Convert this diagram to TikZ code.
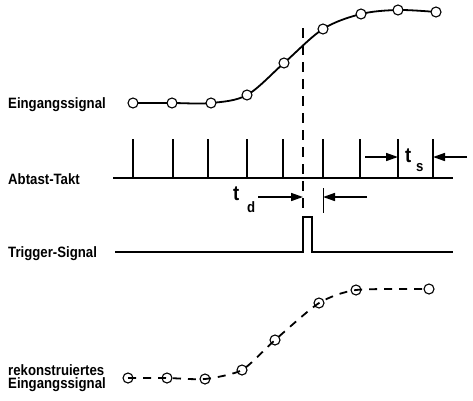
\documentclass[tikz,border=0pt]{standalone}
\usepackage{fontspec}
\newfontfamily\lblfont{Liberation Sans Bold}[FakeStretch=0.88]
\usetikzlibrary{arrows.meta, backgrounds}
\tikzset{
  smp/.style = {
    circle, draw=black, fill=white, line width=1.1pt,
    minimum size=10pt, inner sep=0pt
  },
  rsmp/.style = {
    circle, draw=black, line width=1.1pt,
    minimum size=10pt, inner sep=0pt
  },
  sig/.style  = {line width=1.8pt},
  lbl/.style  = {anchor=base west, inner sep=0pt,
                 font=\lblfont\fontsize{15}{13.5}\selectfont},
  tlbl/.style = {anchor=base west, inner sep=0pt,
                 font=\lblfont\fontsize{21}{21}\selectfont},
  slbl/.style = {anchor=base west, inner sep=0pt,
                 font=\lblfont\fontsize{15}{15}\selectfont},
  arr/.style  = {-{Triangle[length=12pt,width=8pt]}, line width=1.6pt}
}

\begin{document}
\begin{tikzpicture}[x=1pt, y=-1pt]
\useasboundingbox (0,0) rectangle (473,400);

%% Labels
\node[lbl] (ein)  at (8,108) {Eingangssignal};
\node[lbl] (abt)  at (8,184) {Abtast-Takt};
\node[lbl] (trg)  at (8,257) {Trigger-Signal};
\node[lbl, anchor=north west, align=left] (rek) at (8,364)
  {rekonstruiertes\\Eingangssignal};

%% Input signal
\foreach \x/\y [count=\i] in {133/103, 172/103, 211/103, 247/95, 284/63,
                              323/29, 361/14, 398/10, 436/12}
  \node[smp] (e\i) at (\x,\y) {};
\begin{scope}[on background layer]
\draw[sig] plot[smooth, tension=0.55] coordinates
  {(e1) (e2) (e3) (e4) (e5) (e6) (e7) (e8) (e9)};
\end{scope}

%% Sampling clock
\coordinate (abl) at (113,178);
\coordinate (abr) at (453,178);
\draw[sig] (abl) -- (abr);
\foreach \x [count=\i] in {133,173,208,247,283,323,360,398,433} {
  \coordinate (a\i) at (\x,178);
  \draw[sig] (a\i) -- ++(0,-39);
}

%% t_s
\coordinate (ts1) at (365,157);
\coordinate (ts2) at (467,157);
\draw[arr] (ts1) -- (ts1 -| a8);
\draw[arr] (ts2) -- (ts2 -| a9);
\node[tlbl] (tst) at (405,162) {t};
\node[slbl] (tss) at (416,171) {s};

%% Trigger instant
\coordinate (dtop) at (303,28);
\coordinate (dbot) at (303,208);
\draw[line width=2pt, dash pattern=on 10pt off 7pt] (dtop) -- (dbot);

%% t_d
\coordinate (td1) at (258,197);
\coordinate (td2) at (367,197);
\coordinate (tdm) at (323,188);
\draw[line width=0.8pt] (tdm) -- ++(0,25);
\draw[arr] (td1) -- (td1 -| dtop);
\draw[arr] (td2) -- (td2 -| tdm);
\node[tlbl] (tdt) at (233,200) {t};
\node[slbl] (tdd) at (247,212) {d};

%% Trigger signal
\coordinate (trl) at (115,252);
\coordinate (pl)  at (303,217);
\coordinate (pr)  at (312,217);
\coordinate (trr) at (453,252);
\draw[sig] (trl) -| (pl) -- (pr) |- (trr);

%% Reconstructed signal
\foreach \x/\y [count=\i] in {128/378, 167/378, 205/379, 242/370, 275/340,
                              319/303, 356/290, 429/289}
  \node[rsmp] (r\i) at (\x,\y) {};
\draw[sig, dash pattern=on 8pt off 7pt] plot[smooth, tension=0.4] coordinates
  {(r1) (r2) (r3) (r4) (r5) (r6) (r7) (r8)};

\end{tikzpicture}
\end{document}
